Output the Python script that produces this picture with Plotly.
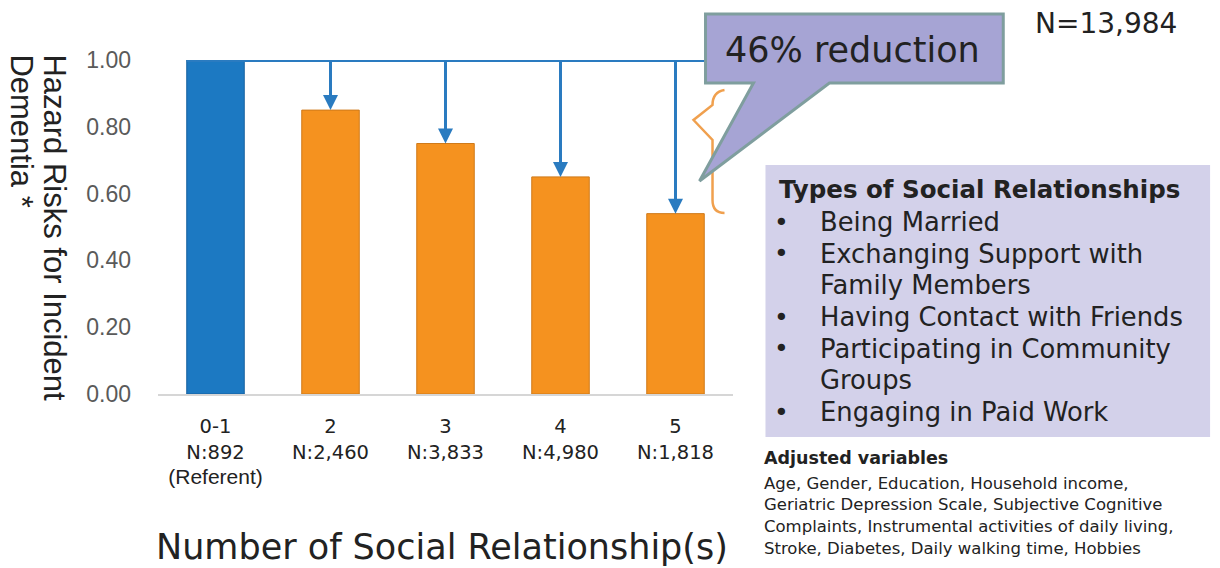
import plotly.graph_objects as go

# ---- data -------------------------------------------------------------
categories = ["0-1", "2", "3", "4", "5"]
sample_sizes = ["N:892", "N:2,460", "N:3,833", "N:4,980", "N:1,818"]
referent_note = "(Referent)"
hazard_ratio = [1.00, 0.85, 0.75, 0.65, 0.54]
y_ticks = [0.0, 0.2, 0.4, 0.6, 0.8, 1.0]
total_n = "N=13,984"
reduction_text = "46% reduction"
y_title_lines = ["Hazard Risks for Incident", "Dementia *"]
x_title = "Number of Social Relationship(s)"
types_title = "Types of Social Relationships"
relationship_types = [
    ["Being Married"],
    ["Exchanging Support with", "Family Members"],
    ["Having Contact with Friends"],
    ["Participating in Community", "Groups"],
    ["Engaging in Paid Work"],
]
adjusted_title = "Adjusted variables"
adjusted_vars = [
    "Age, Gender, Education, Household income,",
    "Geriatric Depression Scale, Subjective Cognitive",
    "Complaints, Instrumental activities of daily living,",
    "Stroke, Diabetes, Daily walking time, Hobbies",
]

# ---- styling ----------------------------------------------------------
BLUE = "#1c79c2"
BLUE_EDGE = "#16609f"
ORANGE = "#f5921f"
ORANGE_EDGE = "#cf7a1a"
ARROW_BLUE = "#2a7bc0"
TEXT = "#222222"
SANS = "DejaVu Sans"

W, H = 1220, 568
ML, MR, MT, MB = 158, 486.5, 60, 174
PW = W - ML - MR
PH = H - MT - MB


def px(x):
    """page pixel x -> paper x"""
    return (x - ML) / PW


def py(y):
    """page pixel y -> paper y"""
    return (H - MB - y) / PH


bar_colors = [BLUE] + [ORANGE] * (len(categories) - 1)
edge_colors = [BLUE_EDGE] + [ORANGE_EDGE] * (len(categories) - 1)
x_pos = list(range(len(categories)))

tick_text = []
for i, (c, n) in enumerate(zip(categories, sample_sizes)):
    label = f"{c}<br>{n}"
    if i == 0:
        label += (f"<br><span style='font-family:Liberation Sans;"
                  f"font-size:21px'>{referent_note}</span>")
    tick_text.append(label)

fig = go.Figure()
fig.add_trace(go.Bar(
    x=x_pos, y=hazard_ratio, width=0.5,
    marker=dict(color=bar_colors, line=dict(color=edge_colors, width=1)),
    hoverinfo="skip",
))

# reference level line at the referent's hazard
fig.add_shape(type="line", xref="x", yref="y",
              x0=-0.25, x1=4.4, y0=hazard_ratio[0], y1=hazard_ratio[0],
              line=dict(color=ARROW_BLUE, width=4), layer="above")

# orange brace next to the last bar (drawn under the callout)
brace = [(725, 90), (713, 92), (713, 105), (694, 120), (713, 140),
         (713, 200), (713, 213), (725, 213)]
b = [(px(x), py(y)) for x, y in brace]
brace_path = (f"M{b[0][0]},{b[0][1]} Q{b[1][0]},{b[1][1]} {b[2][0]},{b[2][1]} "
              f"L{b[3][0]},{b[3][1]} L{b[4][0]},{b[4][1]} L{b[5][0]},{b[5][1]} "
              f"Q{b[6][0]},{b[6][1]} {b[7][0]},{b[7][1]}")
fig.add_shape(type="path", xref="paper", yref="paper", path=brace_path,
              line=dict(color="#f0a04e", width=2.5), layer="above")

# callout bubble
callout = [(706, 14), (1004, 14), (1004, 83), (830, 83), (700, 181),
           (754, 83), (706, 83)]
c = [(px(x), py(y)) for x, y in callout]
callout_path = "M" + " L".join(f"{x},{y}" for x, y in c) + " Z"
fig.add_shape(type="path", xref="paper", yref="paper", path=callout_path,
              fillcolor="#a6a4d4", line=dict(color="#7f9e9e", width=3),
              layer="above")

# relationship types panel
fig.add_shape(type="rect", xref="paper", yref="paper",
              x0=px(766), x1=px(1211), y0=py(165), y1=py(437),
              fillcolor="#d3d1ea", line=dict(width=0), layer="above")

# arrows from the referent level down to each group's bar
for xi, hr in zip(x_pos[1:], hazard_ratio[1:]):
    fig.add_annotation(x=xi, y=hr, ax=xi, ay=hazard_ratio[0],
                       xref="x", yref="y", axref="x", ayref="y",
                       text="", showarrow=True, arrowhead=2, arrowsize=1,
                       arrowwidth=3, arrowcolor=ARROW_BLUE, standoff=0)

ann = []
# rotated y-axis title, two lines aligned at the top
for line, xc in zip(y_title_lines, [54, 21]):
    ann.append(dict(text=line, x=px(xc), y=py(52), xref="paper", yref="paper",
                    xanchor="center", yanchor="top", textangle=90,
                    showarrow=False,
                    font=dict(family="Liberation Sans", size=31, color=TEXT)))

ann.append(dict(text=x_title, x=px(442), y=py(547), xref="paper", yref="paper",
                xanchor="center", yanchor="middle", showarrow=False,
                font=dict(family=SANS, size=35, color=TEXT)))

ann.append(dict(text=reduction_text, x=px(853), y=py(50), xref="paper",
                yref="paper", xanchor="center", yanchor="middle",
                showarrow=False, font=dict(family=SANS, size=35, color=TEXT)))

ann.append(dict(text=total_n, x=px(1107), y=py(23), xref="paper", yref="paper",
                xanchor="center", yanchor="middle", showarrow=False,
                font=dict(family=SANS, size=28, color=TEXT)))

ann.append(dict(text=f"<b>{types_title}</b>", x=px(778), y=py(189),
                xref="paper", yref="paper", xanchor="left", yanchor="middle",
                showarrow=False, font=dict(family=SANS, size=24.5, color=TEXT)))

line_y = 222
for item in relationship_types:
    ann.append(dict(text="•", x=px(782), y=py(line_y), xref="paper",
                    yref="paper", xanchor="center", yanchor="middle",
                    showarrow=False, font=dict(family=SANS, size=25, color=TEXT)))
    for part in item:
        ann.append(dict(text=part, x=px(819), y=py(line_y), xref="paper",
                        yref="paper", xanchor="left", yanchor="middle",
                        showarrow=False,
                        font=dict(family=SANS, size=25.8, color=TEXT)))
        line_y += 31.7

ann.append(dict(text=f"<b>{adjusted_title}</b>", x=px(763), y=py(458),
                xref="paper", yref="paper", xanchor="left", yanchor="middle",
                showarrow=False, font=dict(family=SANS, size=17.5, color=TEXT)))
for k, line in enumerate(adjusted_vars):
    ann.append(dict(text=line, x=px(763), y=py(483 + 21.7 * k), xref="paper",
                    yref="paper", xanchor="left", yanchor="middle",
                    showarrow=False, font=dict(family=SANS, size=16.5, color=TEXT)))

for a in ann:
    fig.add_annotation(**a)

fig.update_layout(
    width=W, height=H,
    margin=dict(l=ML, r=MR, t=MT, b=MB, pad=0),
    paper_bgcolor="white", plot_bgcolor="white",
    showlegend=False,
    bargap=0.5,
    xaxis=dict(range=[-0.5, 4.5], tickmode="array", tickvals=x_pos,
               ticktext=tick_text, showgrid=False, zeroline=False,
               showline=True, linecolor="#d6d6d6", linewidth=2, ticks="",
               ticklabelstandoff=14,
               tickfont=dict(family=SANS, size=19.5, color=TEXT)),
    yaxis=dict(range=[0, 1.0], tickmode="array", tickvals=y_ticks,
               tickformat=".2f", showgrid=False, zeroline=False,
               showline=False, ticks="", ticklabelstandoff=26,
               tickfont=dict(family="Liberation Sans", size=23,
                             color="#5a5a5a")),
)

fig.write_html("out.html")
